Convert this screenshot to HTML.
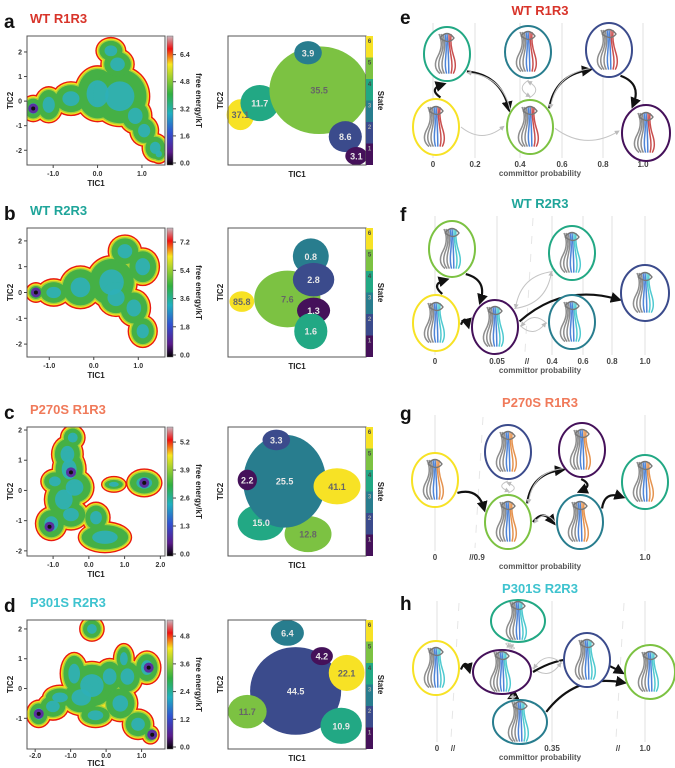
<!DOCTYPE html>
<html><head><meta charset="utf-8"><style>
html,body{margin:0;padding:0;background:#fff}
svg{display:block;font-family:"Liberation Sans",Arial,sans-serif}
</style></head><body>
<svg id="fig" width="675" height="768" viewBox="0 0 675 768">
<defs>
<linearGradient id="cbar" x1="0" y1="1" x2="0" y2="0">
<stop offset="0" stop-color="#000"/><stop offset="0.1" stop-color="#5a1a8a"/><stop offset="0.25" stop-color="#3050d0"/>
<stop offset="0.4" stop-color="#20b0c0"/><stop offset="0.55" stop-color="#30b040"/><stop offset="0.68" stop-color="#a0d030"/>
<stop offset="0.78" stop-color="#f8e820"/><stop offset="0.9" stop-color="#f01010"/><stop offset="1" stop-color="#c8b8c0"/>
</linearGradient>
<marker id="ahb" markerWidth="5" markerHeight="5" refX="3" refY="2.5" orient="auto"><path d="M0,0 L5,2.5 L0,5z" fill="#111"/></marker>
<marker id="ahg" markerWidth="5" markerHeight="5" refX="3" refY="2.5" orient="auto"><path d="M0,0 L5,2.5 L0,5z" fill="#bbb"/></marker>
</defs>
</svg>
<script>
// ---------- data ----------
const rowTitles = ["WT R1R3","WT R2R3","P270S R1R3","P301S R2R3"];
const rowTitleColors = ["#d8342a","#1fa59a","#f07a5a","#3ec3cf"];
const panelLetters = ["a","b","c","d"];
const rightLetters = ["e","f","g","h"];
const xRanges = [[-1.59,1.52],[-1.5,1.6],[-1.73,2.13],[-2.23,1.66]];
const yRanges = [[-2.6,2.65],[-2.5,2.5],[-2.17,2.1],[-2.03,2.3]];
const xTicks = [[-1,0,1],[-1,0,1],[-1,0,1,2],[-2,-1,0,1]];
const yTicks = [[-2,-1,0,1,2],[-2,-1,0,1,2],[-2,-1,0,1,2],[-1,0,1,2]];
const cbarTicks = [[0,1.6,3.2,4.8,6.4],[0,1.8,3.6,5.4,7.2],[0,1.3,2.6,3.9,5.2],[0,1.2,2.4,3.6,4.8]];
const cbarMax = [7.5,8.1,5.9,5.5];
// free-energy basins: [TIC1, TIC2, rx, ry] (TIC units)
const basinsA = [[-1.45,-0.3,0.2,0.4],[-1.1,-0.15,0.25,0.6],[-0.6,0.1,0.35,0.55],[0,0.3,0.45,1.0],[0.5,0.2,0.6,1.1],[0.3,2.05,0.26,0.4],[0.45,1.5,0.3,0.5],[0.85,-0.6,0.3,0.6],[1.05,-1.2,0.25,0.5],[1.3,-1.9,0.22,0.45],[1.38,-2.15,0.13,0.25]];
const basinsB = [[-1.3,0,0.15,0.25],[-0.9,0,0.3,0.4],[-0.3,0.2,0.4,0.7],[0.4,0.4,0.5,0.9],[0.7,1.6,0.3,0.5],[1.1,1.0,0.3,0.6],[0.9,-0.6,0.3,0.6],[1.1,-1.5,0.25,0.5],[0.5,-0.2,0.35,0.6]];
const basinsC = [[-1.1,-1.2,0.2,0.3],[-0.45,1.75,0.25,0.3],[-0.6,1.2,0.35,0.5],[-0.55,0.7,0.38,0.6],[-0.95,0.3,0.3,0.3],[-0.4,0.1,0.45,0.5],[-0.7,-0.3,0.45,0.6],[-0.5,-0.8,0.4,0.4],[-1.05,-1.1,0.35,0.45],[0.45,-1.55,0.65,0.4],[0.2,-0.9,0.3,0.4],[0.7,0.2,0.25,0.15],[1.55,0.25,0.4,0.35]];
const basinsD = [[-1.9,-0.85,0.25,0.35],[-1.5,-0.6,0.35,0.35],[-0.4,2.0,0.25,0.3],[-0.9,0.5,0.3,0.6],[-0.4,0.1,0.6,0.7],[-0.7,-0.3,0.5,0.5],[0.1,0.4,0.35,0.5],[0.6,0.4,0.35,0.5],[0.5,1.0,0.2,0.4],[1.15,0.7,0.3,0.45],[-0.3,-0.9,0.4,0.3],[0.4,-0.5,0.4,0.5],[0.9,-1.2,0.35,0.4],[1.25,-1.55,0.15,0.2],[-1.3,-0.3,0.4,0.3]];
const basins = [basinsA,basinsB,basinsC,basinsD];
const deepSpots = [[[-1.45,-0.3]],[[-1.3,0]],[[-1.1,-1.2],[1.55,0.25],[-0.5,0.6]],[[-1.9,-0.85],[1.3,-1.55],[1.2,0.7]]];
const stateColors = ["#45115a","#3b4b8c","#287d8e","#22a884","#7cc242","#f7e225"];
// states: [state, fx, fy, frx, fry, percent]
const statesA = [[6,0.09,0.61,0.1,0.12,"37.1"],[4,0.23,0.52,0.14,0.14,"11.7"],[5,0.66,0.42,0.36,0.34,"35.5"],[3,0.58,0.13,0.1,0.09,"3.9"],[2,0.85,0.78,0.12,0.12,"8.6"],[1,0.93,0.93,0.08,0.07,"3.1"]];
const statesB = [[6,0.1,0.57,0.09,0.08,"85.8"],[5,0.43,0.55,0.24,0.22,"7.6"],[3,0.6,0.22,0.13,0.14,"0.8"],[2,0.62,0.4,0.15,0.13,"2.8"],[1,0.62,0.64,0.12,0.1,"1.3"],[4,0.6,0.8,0.12,0.14,"1.6"]];
const statesC = [[5,0.58,0.83,0.17,0.14,"12.8"],[4,0.24,0.74,0.17,0.14,"15.0"],[3,0.41,0.42,0.3,0.36,"25.5"],[2,0.35,0.1,0.1,0.08,"3.3"],[1,0.14,0.41,0.07,0.08,"2.2"],[6,0.79,0.46,0.17,0.14,"41.1"]];
const statesD = [[3,0.43,0.1,0.12,0.1,"6.4"],[2,0.49,0.55,0.33,0.34,"44.5"],[1,0.68,0.28,0.08,0.07,"4.2"],[6,0.86,0.41,0.13,0.14,"22.1"],[5,0.14,0.71,0.14,0.13,"11.7"],[4,0.82,0.82,0.15,0.14,"10.9"]];
const states = [statesA,statesB,statesC,statesD];
// committor panels
const commTicks = [["0","0.2","0.4","0.6","0.8","1.0"],["0","0.05","//","0.4","0.6","0.8","1.0"],["0","//0.9","1.0"],["0","//","0.35","//","1.0"]];
const commTickX = [[433,475,520,562,603,643],[435,497,527,552,583,612,645],[435,477,645],[437,453,552,618,645]];
// ellipses: [cx, cy, state, rx, ry]
const nodes = [
 [[447,54,4,23,27],[528,52,3,23,26],[609,50,2,23,27],[436,127,6,23,28],[530,127,5,23,27],[646,133,1,24,28]],
 [[452,249,5,23,28],[436,323,6,23,28],[495,327,1,23,27],[572,253,4,23,27],[572,322,3,23,27],[645,293,2,24,28]],
 [[435,480,6,23,27],[508,452,2,23,27],[582,450,1,23,27],[508,522,5,23,27],[580,522,3,23,27],[645,482,4,23,27]],
 [[436,668,6,23,27],[518,621,4,27,21],[502,672,1,29,22],[520,722,3,27,22],[587,660,2,23,27],[650,672,5,25,27]]
];
// arrows: [from, to, black?]
const arrowsE = [[3,0,1],[0,4,1],[4,2,1],[2,5,1],[4,0,0],[1,4,0],[4,1,0],[2,4,0],[3,4,0],[4,5,0]];
const arrowsF = [[1,0,1],[0,2,1],[2,5,1],[1,2,1],[2,3,0],[3,2,0],[2,4,0],[4,2,0]];
const arrowsG = [[0,3,1],[3,2,1],[2,4,1],[3,4,1],[4,5,1],[1,3,0],[3,1,0],[2,3,0],[4,3,0]];
const arrowsH = [[0,2,1],[2,4,0],[2,3,1],[3,5,1],[2,5,1],[1,2,0],[2,1,0],[4,2,0],[3,2,0]];
const arrowSets = [arrowsE,arrowsF,arrowsG,arrowsH];
const rowTops = [36,228,427,620];
const commY = [167,364,560,751];
const titleY = [15,208,407,593];

// ---------- drawing ----------
const svg = document.getElementById('fig');
const NS = 'http://www.w3.org/2000/svg';
function mk(tag, attrs, parent){ const e=document.createElementNS(NS,tag); for(const k in attrs) e.setAttribute(k,attrs[k]); (parent||svg).appendChild(e); return e; }
function txt(x,y,s,attrs,parent){ const e=mk('text',Object.assign({x:x,y:y},attrs),parent); e.textContent=s; return e; }
const H=129;
const defs=svg.querySelector('defs');

rowTops.forEach((top,r)=>{
  const g = mk('g',{});
  
  
  const L=27,R=165,T=top,B=top+H;
  const tickOff = r===3?9:11, titleOff = r===3?17:21;
  const cp=mk('clipPath',{id:'clip'+r},defs); mk('rect',{x:L,y:T,width:R-L,height:H},cp);
  const xs=v=>L+(v-xRanges[r][0])/(xRanges[r][1]-xRanges[r][0])*(R-L);
  const ys=v=>B-(v-yRanges[r][0])/(yRanges[r][1]-yRanges[r][0])*(B-T);
  const kx=(R-L)/(xRanges[r][1]-xRanges[r][0]), ky=(B-T)/(yRanges[r][1]-yRanges[r][0]);
  const lt=txt(4,top-8,panelLetters[r],{'font-size':19,'font-weight':'bold',fill:'#111'},g);
   
  const tt=txt(30,top-13,rowTitles[r],{'font-size':13,'font-weight':'bold',fill:rowTitleColors[r]},g);
   
  // heatmap
  const hm=mk('g',{'clip-path':`url(#clip${r})`},g);  
  const layers=[[4,'#e81a10'],[2.6,'#f6e020'],[1.3,'#a8d038'],[0,'#45b045']];
  layers.forEach(([d,c])=>{
    basins[r].forEach(b=>{
      const e=mk('ellipse',{cx:xs(b[0]),cy:ys(b[1]),rx:b[2]*kx+d,ry:b[3]*ky+d,fill:c},hm);
       
    });
  });
  basins[r].forEach(b=>{
    mk('ellipse',{cx:xs(b[0]),cy:ys(b[1]),rx:b[2]*kx*0.55,ry:b[3]*ky*0.55,fill:'#2fb0b8',opacity:0.9},hm);
  });
  deepSpots[r].forEach(p=>{
    const d=mk('ellipse',{cx:xs(p[0]),cy:ys(p[1]),rx:5,ry:5,fill:'#5a30a0'},hm);
     
    mk('ellipse',{cx:xs(p[0]),cy:ys(p[1]),rx:2,ry:2,fill:'#111'},hm);
  });
  const fr=mk('rect',{x:L,y:T,width:R-L,height:H,fill:'none',stroke:'#555','stroke-width':1},g);
   
  xTicks[r].forEach(v=>{ mk('line',{x1:xs(v),x2:xs(v),y1:B,y2:B+3,stroke:'#444'},g);
    const t=txt(xs(v),B+tickOff,v.toFixed(1),{'font-size':7,'font-weight':'bold','text-anchor':'middle',fill:'#333'},g);
      });
  yTicks[r].forEach(v=>{ mk('line',{x1:L-3,x2:L,y1:ys(v),y2:ys(v),stroke:'#444'},g);
    const t=txt(L-5,ys(v)+2.5,String(v),{'font-size':7,'font-weight':'bold','text-anchor':'end',fill:'#333'},g);
      });
  const xt=txt((L+R)/2,B+titleOff,'TIC1',{'font-size':8,'font-weight':'bold','text-anchor':'middle',fill:'#222'},g);
   
  const yt=txt(0,0,'TIC2',{'font-size':8,'font-weight':'bold','text-anchor':'middle',fill:'#222',transform:`translate(13,${(T+B)/2}) rotate(-90)`},g);
   
  // colorbar
  const cb=mk('rect',{x:167,y:T,width:6,height:H,fill:'url(#cbar)',stroke:'#666','stroke-width':0.5},g);
   
  cbarTicks[r].forEach(v=>{ const y=B-2-v/cbarMax[r]*(H-2);
    mk('line',{x1:173,x2:176,y1:y,y2:y,stroke:'#444'},g);
    const t=txt(180,y+2.5,v.toFixed(1),{'font-size':7,'font-weight':'bold',fill:'#333'},g);
      });
  const ct=txt(0,0,'free energy/kT',{'font-size':8,'font-weight':'bold','text-anchor':'middle',fill:'#222',transform:`translate(196,${(T+B)/2}) rotate(90)`},g);
   
  // state map
  const SL=228,SR=366;
  const sm=mk('g',{},g);  
  states[r].forEach(s=>{
    const e=mk('ellipse',{cx:SL+s[1]*(SR-SL),cy:T+s[2]*H,rx:s[3]*(SR-SL),ry:s[4]*H,fill:stateColors[s[0]-1]},sm);
     
  });
  states[r].forEach(s=>{
    const light = s[0]>=5;
    const t=txt(SL+s[1]*(SR-SL),T+s[2]*H+3.5,s[5],{'font-size':9,'font-weight':'bold','text-anchor':'middle',fill:light?'#666':'#e8e8e8'},sm);
     
  });
  const sf=mk('rect',{x:SL,y:T,width:SR-SL,height:H,fill:'none',stroke:'#555'},g);
   
  const sx=txt((SL+SR)/2,B+12,'TIC1',{'font-size':8,'font-weight':'bold','text-anchor':'middle',fill:'#222'},g);
   
  const sy=txt(0,0,'TIC2',{'font-size':8,'font-weight':'bold','text-anchor':'middle',fill:'#222',transform:`translate(${SL-5},${(T+B)/2}) rotate(-90)`},g);
   
  stateColors.forEach((c,i)=>{ const y=B-(i+1)*H/6;
    mk('rect',{x:366,y:y,width:7,height:H/6,fill:c},g);
    const t=txt(369.5,y+7,String(i+1),{'font-size':6,'font-weight':'bold','text-anchor':'middle',fill:i<3?'#aaa':'#444'},g);
      });
  const st=txt(0,0,'State',{'font-size':8,'font-weight':'bold','text-anchor':'middle',fill:'#222',transform:`translate(378,${(T+B)/2}) rotate(90)`},g);
   

  // ---- right committor panel ----
  const rg=mk('g',{});  
  const rl=txt(400,titleY[r]+ (r===0?9:(r===3?17:13)),rightLetters[r],{'font-size':19,'font-weight':'bold',fill:'#111'},rg);
   
  const rt=txt(540,titleY[r],rowTitles[r],{'font-size':13,'font-weight':'bold','text-anchor':'middle',fill:rowTitleColors[r]},rg);
   
  const cy=commY[r];
  commTicks[r].forEach((s,i)=>{ const x=commTickX[r][i];
    if(s.indexOf('//')<0) mk('line',{x1:x,x2:x,y1:titleY[r]+8,y2:cy-9,stroke:'#e2e2e2','stroke-width':1},rg);
    else mk('line',{x1:x+6,x2:x-2,y1:titleY[r]+10,y2:cy-12,stroke:'#e6e6e6','stroke-width':1,'stroke-dasharray':'8 10'},rg);
    const t=txt(x,cy,s,{'font-size':8,'font-weight':'bold','text-anchor':'middle',fill:'#444'},rg);
      });
  const cl=txt(540,cy+9,'committor probability',{'font-size':8,'font-weight':'bold','text-anchor':'middle',fill:'#555'},rg);
   
  const n=nodes[r];
  arrowSets[r].forEach(([a,b,bk])=>{
    const A=n[a],Bn=n[b];
    let dx=Bn[0]-A[0], dy=Bn[1]-A[1]; const dist=Math.hypot(dx,dy); const ux=dx/dist, uy=dy/dist;
    const ta=1/Math.sqrt((ux/A[3])**2+(uy/A[4])**2)+2, tb=1/Math.sqrt((ux/Bn[3])**2+(uy/Bn[4])**2)+4;
    const sx0=A[0]+ux*ta, sy0=A[1]+uy*ta, ex=Bn[0]-ux*tb, ey=Bn[1]-uy*tb;
    const side = bk?1:-1;
    const cx=(sx0+ex)/2 + uy*0.18*dist*side, cyy=(sy0+ey)/2 - ux*0.18*dist*side;
    const p=mk('path',{d:`M${sx0},${sy0} Q${cx},${cyy} ${ex},${ey}`,fill:'none',stroke:bk?'#111':'#c4c4c4','stroke-width':bk?2.2:1,'marker-end':bk?'url(#ahb)':'url(#ahg)'},rg);
     
  });
  const accent = r===0?'#c03030':(r===2?'#e08030':'#30c0c8');
  n.forEach(nd=>{
    const ng=mk('g',{},rg);  
    mk('ellipse',{cx:nd[0],cy:nd[1],rx:nd[3],ry:nd[4],fill:'#fff',stroke:stateColors[nd[2]-1],'stroke-width':2},ng);
    const h=Math.min(nd[4],22);
    for(let k=0;k<7;k++){
      const off=(k-3)*2;
      const col=k<3?'#7a7a7a':(k<5?'#2f6fd0':accent);
      mk('path',{d:`M${nd[0]+off-2},${nd[1]-h+2} q${5-k},${h*0.5} ${k*0.6-1},${h} t${2-k*0.4},${h*0.8}`,fill:'none',stroke:col,'stroke-width':1.5,opacity:0.85},ng);
    }
    mk('path',{d:`M${nd[0]-7},${nd[1]-h+6} q7,-9 14,0 q-5,7 -14,0`,fill:'none',stroke:'#777','stroke-width':1.4},ng);
  });
});
</script>
</body></html>
